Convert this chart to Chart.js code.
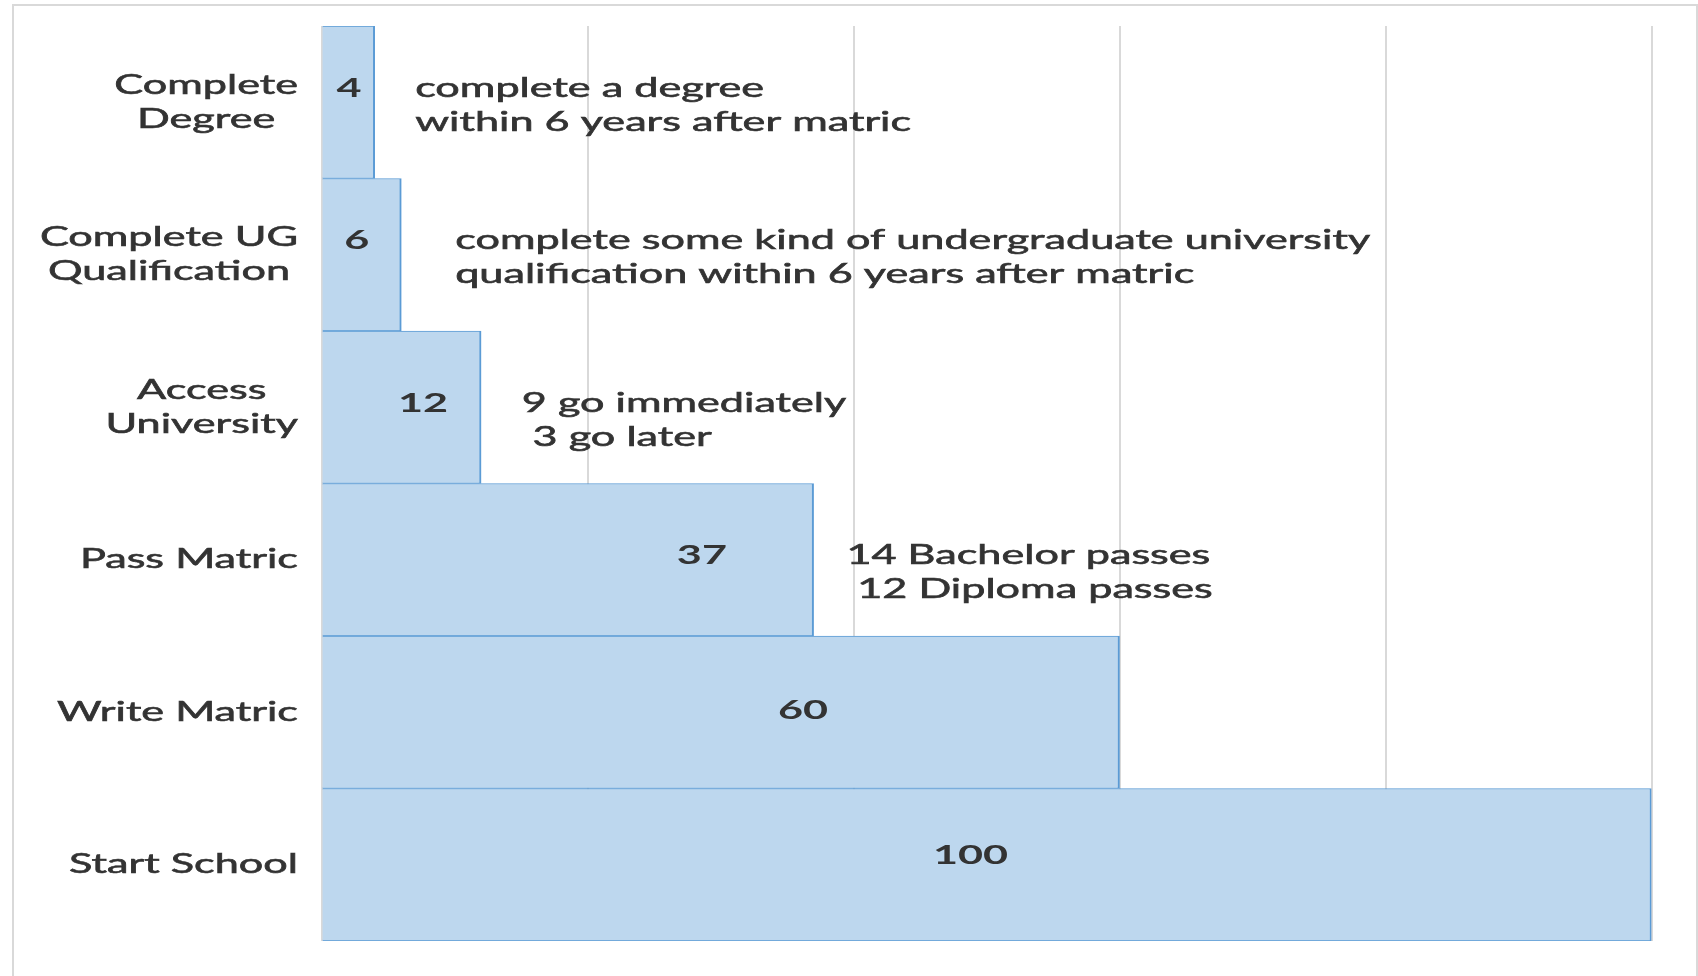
<!DOCTYPE html>
<html>
<head>
<meta charset="utf-8">
<title>From school to degree</title>
<script src="https://cdn.jsdelivr.net/npm/chart.js@4/dist/chart.umd.min.js"></script>
<style>
    html, body { margin: 0; padding: 0; background: #fff; overflow: hidden; }
    #wrap { width: 1698px; height: 976px; position: relative; }
</style>
</head>
<body>
<div id="wrap"><canvas id="funnelChart"></canvas></div>
<script>
// Data, top bar first
const categories = [
    ['Complete', 'Degree'],
    ['Complete UG', 'Qualification'],
    ['Access', 'University'],
    'Pass Matric',
    'Write Matric',
    'Start School'
];
const values = [4, 6, 12, 37, 60, 100];
const notes = [
    ['complete a degree', 'within 6 years after matric'],
    ['complete some kind of undergraduate university', 'qualification within 6 years after matric'],
    ['9 go immediately', '\u20053 go later'],
    ['14 Bachelor passes', '\u200512 Diploma passes'],
    [],
    []
];

// Label placement (value units along x, fraction of a category along y)
const valueLabelX = [2.07, 2.65, 7.64, 28.6, 36.2, 48.8];
const labelShiftY = [-0.092, -0.092, -0.026, -0.03, -0.013, -0.06];
const noteX = [7.04, 10.05, 15.06, 39.47, null, null];

const TEXT_COLOR = '#333333';
const FONT = 'Lato';
const FONT_SIZE = 27;
const LINE_H = 34;
const STRETCH = 1.6; // the picture is stretched sideways

function drawStretched(ctx, text, x, y, align, heavy) {
    ctx.save();
    ctx.translate(x, y);
    ctx.scale(STRETCH, 1);
    ctx.textAlign = align;
    ctx.fillText(text, 0, 0);
    if (heavy) {
        // Excel's blurry rendering reads a bit heavier than plain Lato
        ctx.strokeStyle = TEXT_COLOR;
        ctx.lineWidth = 0.6;
        ctx.strokeText(text, 0, 0);
    }
    ctx.restore();
}

const textPlugin = {
    id: 'funnelText',
    beforeDraw(chart) {
        // outer frame
        const ctx = chart.ctx;
        ctx.save();
        ctx.strokeStyle = '#d9d9d9';
        ctx.lineWidth = 2;
        ctx.strokeRect(13, 5, 1684, 1000);
        ctx.restore();
    },
    afterDraw(chart) {
        const ctx = chart.ctx;
        const xs = chart.scales.x;
        const ys = chart.scales.y;
        const area = chart.chartArea;
        ctx.save();
        ctx.fillStyle = TEXT_COLOR;
        ctx.textBaseline = 'middle';

        // category labels: block right aligned, lines centred in block
        ctx.font = `${FONT_SIZE}px ${FONT}`;
        categories.forEach((cat, i) => {
            const lines = Array.isArray(cat) ? cat : [cat];
            const blockW = Math.max(...lines.map(l => ctx.measureText(l).width)) * STRETCH;
            const cx = area.left - 23.5 - blockW / 2;
            const cy = ys.getPixelForValue(i);
            lines.forEach((l, k) => {
                drawStretched(ctx, l, cx, cy + (k - (lines.length - 1) / 2) * LINE_H, 'center', true);
            });
        });

        // value labels
        ctx.font = `bold ${FONT_SIZE}px ${FONT}`;
        values.forEach((v, i) => {
            const x = xs.getPixelForValue(valueLabelX[i]);
            const y = ys.getPixelForValue(i + labelShiftY[i]);
            drawStretched(ctx, String(v), x, y, 'center', false);
        });

        // notes next to the bars
        ctx.font = `${FONT_SIZE}px ${FONT}`;
        notes.forEach((lines, i) => {
            if (!lines.length) return;
            const x = xs.getPixelForValue(noteX[i]);
            const y = ys.getPixelForValue(i + labelShiftY[i]);
            lines.forEach((l, k) => drawStretched(ctx, l, x, y + k * LINE_H, 'left', true));
        });
        ctx.restore();
    }
};

new Chart(document.getElementById('funnelChart'), {
    type: 'bar',
    data: {
        labels: categories,
        datasets: [{
            data: values,
            backgroundColor: '#bdd7ee',
            borderColor: '#5b9bd5',
            borderWidth: { top: 1, right: 2, bottom: 1, left: 0 },
            borderSkipped: 'start',
            barPercentage: 1,
            categoryPercentage: 1
        }]
    },
    options: {
        indexAxis: 'y',
        responsive: true,
        maintainAspectRatio: false,
        animation: false,
        layout: {
            padding: { left: 321.5, right: 46.5, top: 26, bottom: 35 }
        },
        plugins: {
            legend: { display: false },
            tooltip: { enabled: false }
        },
        scales: {
            x: {
                min: 0,
                max: 100,
                ticks: { stepSize: 20, display: false },
                grid: { color: '#d9d9d9', lineWidth: 2, drawTicks: false },
                border: { display: false }
            },
            y: {
                display: false
            }
        }
    },
    plugins: [textPlugin]
});
</script>
</body>
</html>
